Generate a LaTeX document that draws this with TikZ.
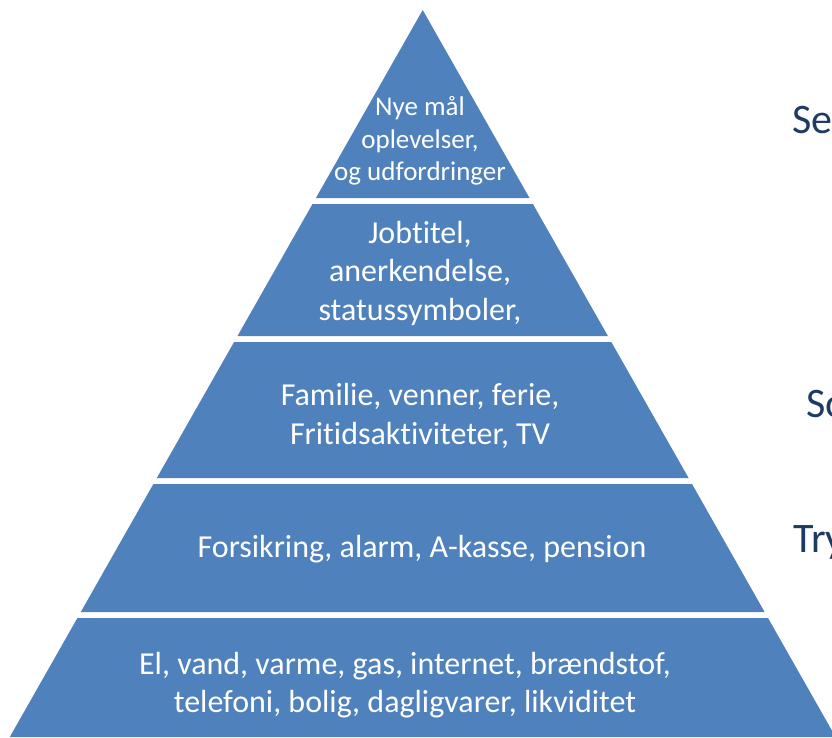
\documentclass[tikz,border=0pt]{standalone}
\usepackage{fontspec}
\setmainfont[RawFeature={-liga}]{Carlito}
\definecolor{pyrblue}{HTML}{4F81BD}
\definecolor{lbldark}{HTML}{1F3B63}
\begin{document}
\begin{tikzpicture}[x=1pt,y=-1pt,
  band/.style={fill=pyrblue},
  bandtext/.style={text=white,align=center,inner sep=0pt,font=\fontsize{32}{38.5}\selectfont},
  toptext/.style={text=white,align=center,inner sep=0pt,font=\fontsize{27}{32.5}\selectfont},
  sidelabel/.style={text=lbldark,anchor=base west,inner sep=0pt,font=\fontsize{42}{50}\selectfont}]
\useasboundingbox (0,0) rectangle (832,737);
\clip (0,0) rectangle (832,737);
\fill[white] (0,0) rectangle (832,737);
% bands (apex x=422.7, half-width slope 0.568)
\fill[band] (422.7,10) -- (529.5,198) -- (315.9,198) -- cycle;
\fill[band] (312.5,204) -- (532.9,204) -- (607.9,336) -- (237.5,336) -- cycle;
\fill[band] (234.1,342) -- (611.3,342) -- (688.6,478) -- (156.8,478) -- cycle;
\fill[band] (153.4,484) -- (692.0,484) -- (764.6,612) -- (80.8,612) -- cycle;
\fill[band] (77.4,618) -- (768.0,618) -- (835.6,737) -- (9.8,737) -- cycle;
% texts
\node[toptext] (t1) at (420,141) {Nye mål\\oplevelser,\\og udfordringer};
\node[bandtext] (t2) at (420,273) {Jobtitel,\\anerkendelse,\\statussymboler,};
\node[bandtext] (t3) at (420,416) {Familie, venner, ferie,\\Fritidsaktiviteter, TV};
\node[bandtext] (t4) at (422,549) {Forsikring, alarm, A-kasse, pension};
\node[bandtext] (t5) at (405,685) {El, vand, varme, gas, internet, brændstof,\\telefoni, bolig, dagligvarer, likviditet};
% side labels (cut off at the right edge, as in the reference)
\node[sidelabel] (s1) at (792,133) {Se};
\node[sidelabel] (s2) at (806,417) {So};
\node[sidelabel] (s3) at (793,552) {Try};
\end{tikzpicture}
\end{document}
